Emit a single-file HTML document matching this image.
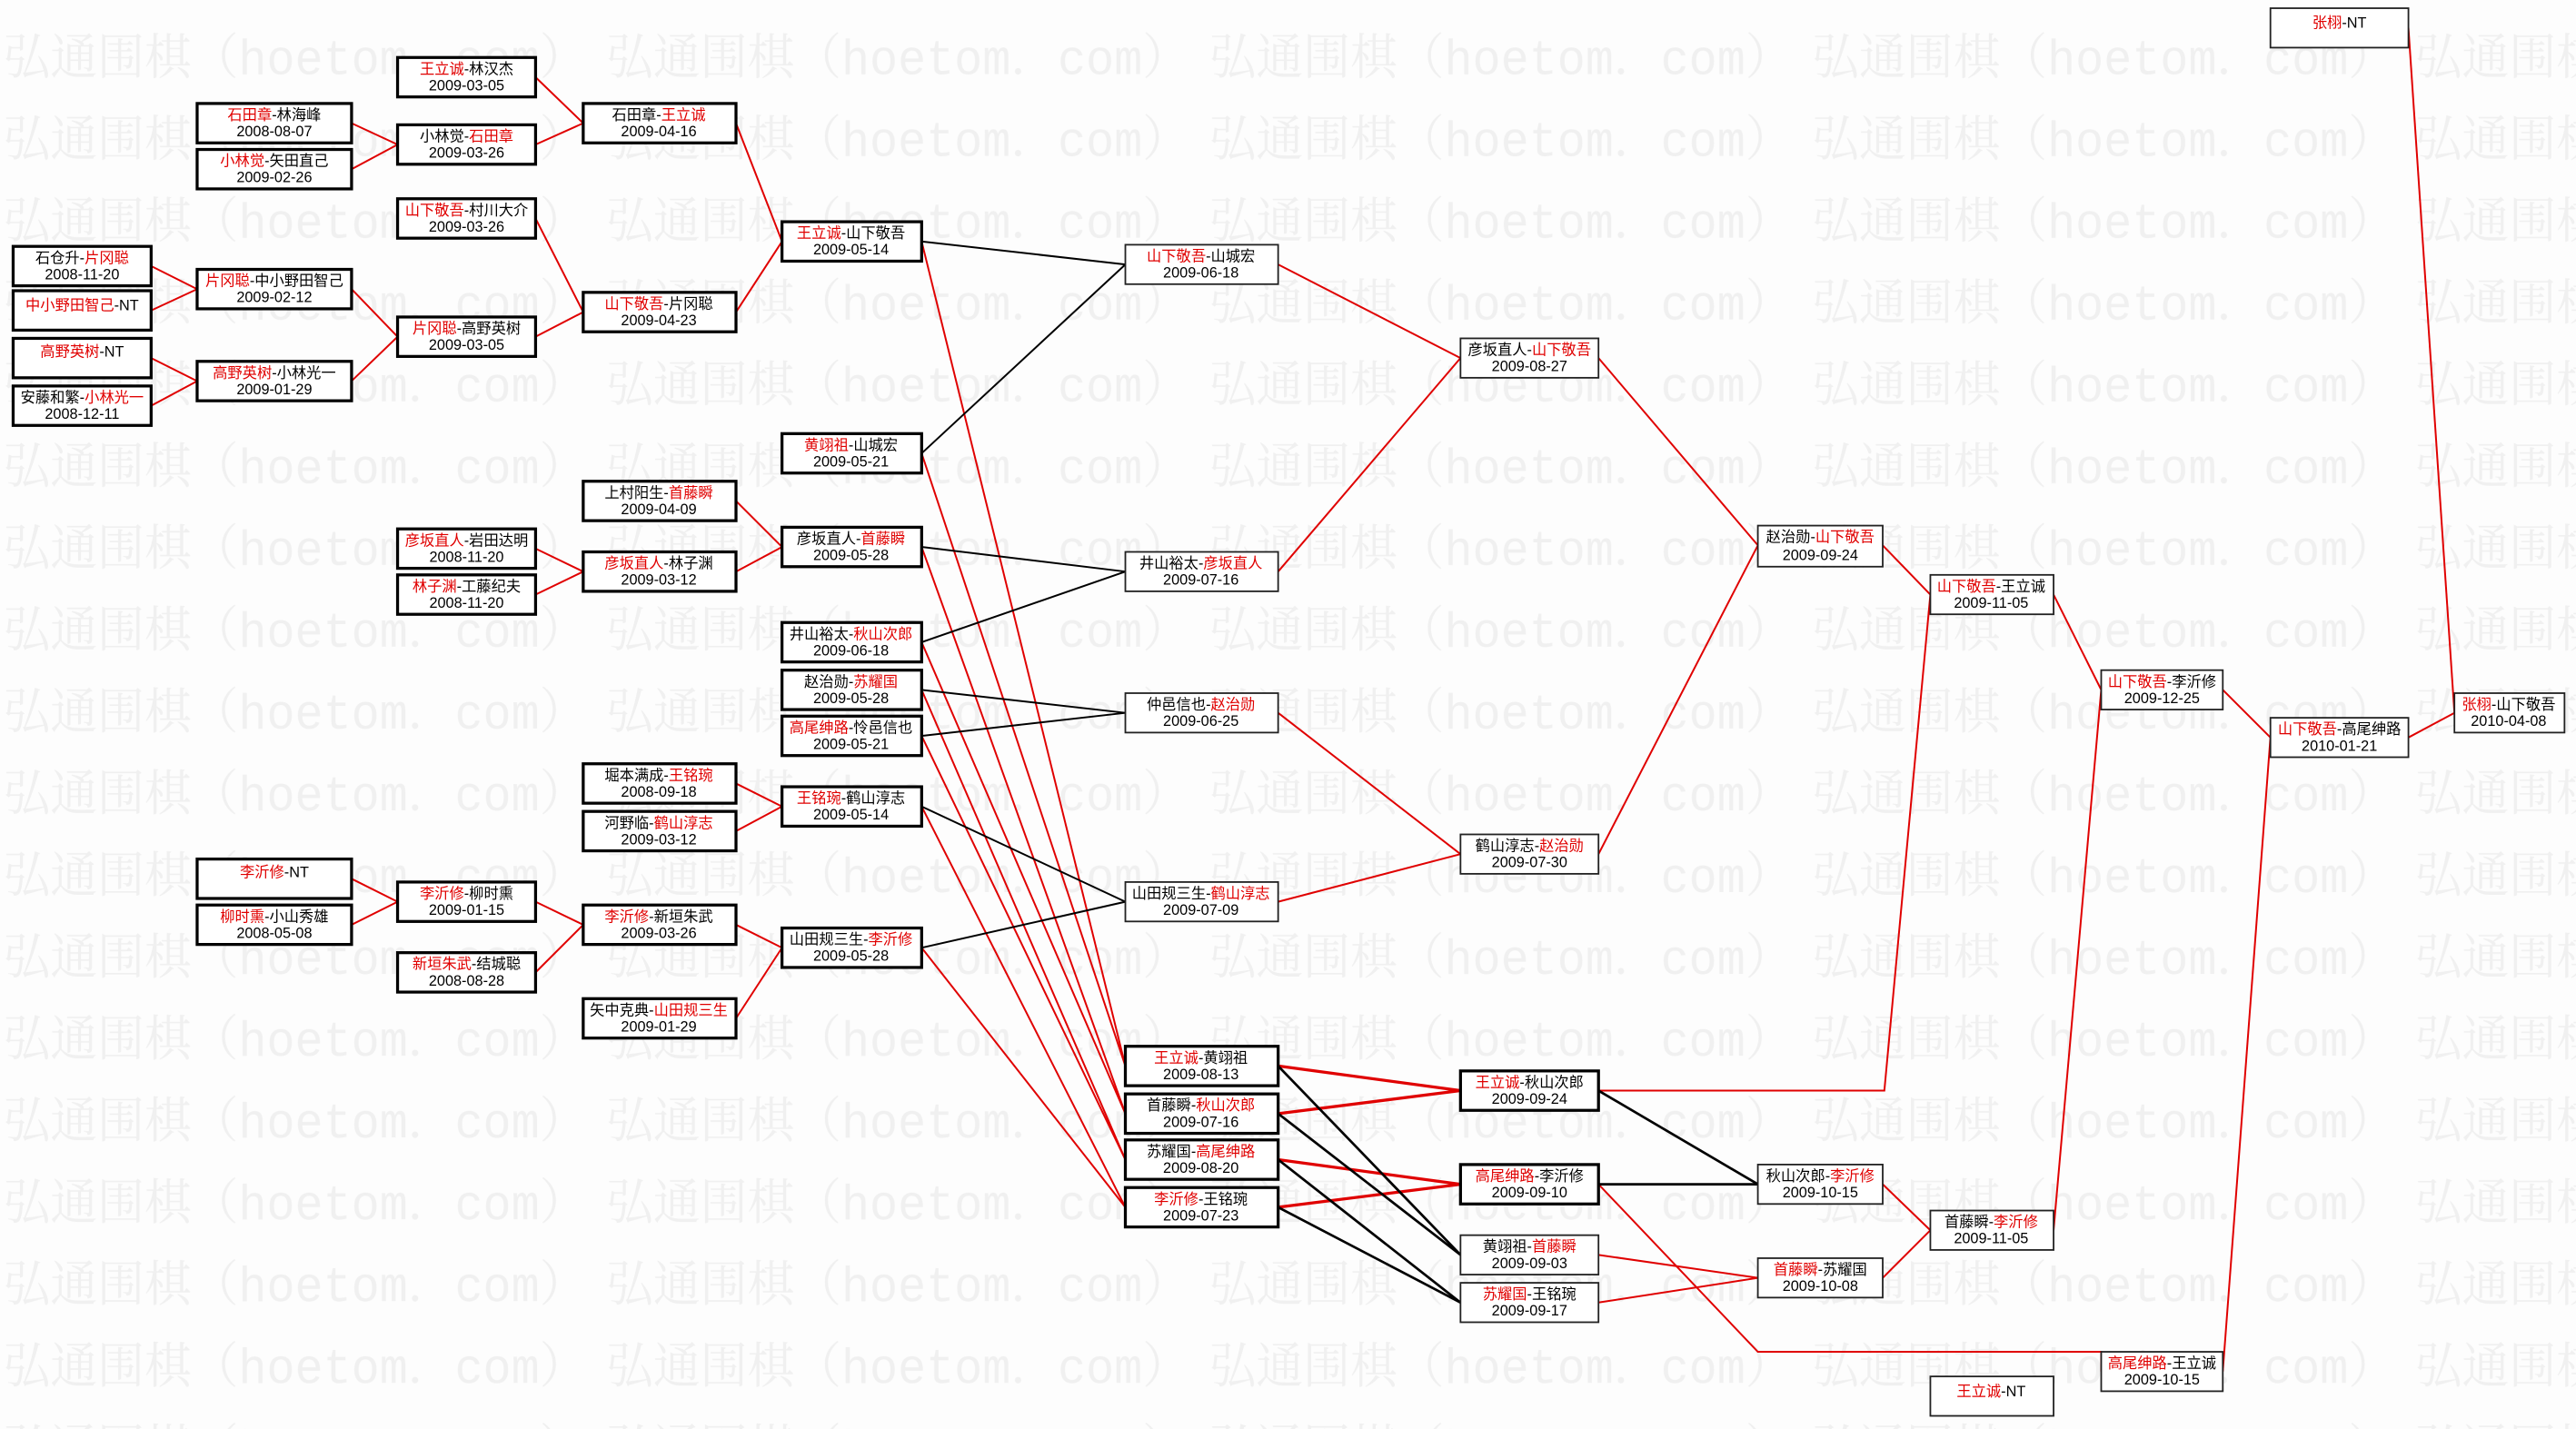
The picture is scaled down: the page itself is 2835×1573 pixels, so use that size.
<!DOCTYPE html>
<html><head><meta charset="utf-8"><style>
html,body{margin:0;padding:0;background:#fdfdfd;}
svg{display:block}
text{font-family:"Liberation Sans","Noto Sans CJK SC",sans-serif;font-size:9px;text-anchor:middle;fill:#000}
.r{fill:#e00000}
.b{fill:#fff;stroke:#000;stroke-width:1.8}
.t{fill:#fff;stroke:#222;stroke-width:1}
.lr{stroke:#e00000;stroke-width:1.1;fill:none}
.lk{stroke:#000;stroke-width:1.1;fill:none}
.wm{font-family:"Liberation Mono","Noto Serif CJK SC",monospace;font-size:30px;fill:#f0f0f0;text-anchor:start}
</style></head><body>
<svg width="2835" height="1573" viewBox="0 0 1568 870" preserveAspectRatio="none" xmlns="http://www.w3.org/2000/svg">
<defs>
<pattern id="wm" x="0" y="0" width="367" height="49.8" patternUnits="userSpaceOnUse">
<text class="wm" x="2" y="45" textLength="355" lengthAdjust="spacingAndGlyphs">弘通围棋（hoetom．com）</text>
</pattern>
</defs>
<rect x="0" y="0" width="1568" height="870" fill="url(#wm)"/>

<!-- connectors -->
<g class="lr">
<line x1="92" y1="162" x2="120" y2="176"/><line x1="92" y1="189" x2="120" y2="176"/>
<line x1="92" y1="218" x2="120" y2="232"/><line x1="92" y1="247" x2="120" y2="232"/>
<line x1="214" y1="75" x2="242" y2="88"/><line x1="214" y1="103" x2="242" y2="88"/>
<line x1="214" y1="176" x2="242" y2="205"/><line x1="214" y1="232" x2="242" y2="205"/>
<line x1="326" y1="47" x2="355" y2="75"/><line x1="326" y1="88" x2="355" y2="75"/>
<line x1="326" y1="133" x2="355" y2="190"/><line x1="326" y1="205" x2="355" y2="190"/>
<line x1="448" y1="75" x2="476" y2="147"/><line x1="448" y1="190" x2="476" y2="147"/>
<line x1="326" y1="334" x2="355" y2="348"/><line x1="326" y1="362" x2="355" y2="348"/>
<line x1="448" y1="305" x2="476" y2="333"/><line x1="448" y1="348" x2="476" y2="333"/>
<line x1="448" y1="477" x2="476" y2="491"/><line x1="448" y1="506" x2="476" y2="491"/>
<line x1="214" y1="535" x2="242" y2="549"/><line x1="214" y1="563" x2="242" y2="549"/>
<line x1="326" y1="549" x2="355" y2="563"/><line x1="326" y1="592" x2="355" y2="563"/>
<line x1="448" y1="563" x2="476" y2="577"/><line x1="448" y1="620" x2="476" y2="577"/>
<line x1="561" y1="147" x2="685" y2="649"/><line x1="561" y1="276" x2="685" y2="649"/>
<line x1="561" y1="333" x2="685" y2="678"/><line x1="561" y1="391" x2="685" y2="678"/>
<line x1="561" y1="420" x2="685" y2="706"/><line x1="561" y1="448" x2="685" y2="706"/>
<line x1="561" y1="491" x2="685" y2="735"/><line x1="561" y1="577" x2="685" y2="735"/>
<line x1="778" y1="161" x2="889" y2="218"/><line x1="778" y1="348" x2="889" y2="218"/>
<line x1="778" y1="434" x2="889" y2="520"/><line x1="778" y1="549" x2="889" y2="520"/>
<line x1="973" y1="218" x2="1070" y2="332"/><line x1="973" y1="520" x2="1070" y2="332"/>
<line x1="1146" y1="332" x2="1175" y2="362"/>
<line x1="1250" y1="362" x2="1279" y2="420"/><line x1="1250" y1="749" x2="1279" y2="420"/>
<line x1="1353" y1="420" x2="1382" y2="449"/>
<line x1="1466" y1="449" x2="1494" y2="434"/>
<line x1="1466" y1="17" x2="1494" y2="434"/>
<line x1="1353" y1="835" x2="1382" y2="449"/>
<line x1="973" y1="764" x2="1070" y2="778"/><line x1="973" y1="793" x2="1070" y2="778"/>
<line x1="1146" y1="721" x2="1175" y2="749"/><line x1="1146" y1="778" x2="1175" y2="749"/>
<polyline points="973,664 1147,664 1175,362"/>
<polyline points="973,721 1070,823 1279,823 1279,835"/>
</g>
<g class="lr" style="stroke-width:1.8">
<line x1="778" y1="649" x2="889" y2="664"/><line x1="778" y1="678" x2="889" y2="664"/>
<line x1="778" y1="706" x2="889" y2="721"/><line x1="778" y1="735" x2="889" y2="721"/>
</g>
<g class="lk">
<line x1="561" y1="147" x2="685" y2="161"/><line x1="561" y1="276" x2="685" y2="161"/>
<line x1="561" y1="333" x2="685" y2="348"/><line x1="561" y1="391" x2="685" y2="348"/>
<line x1="561" y1="420" x2="685" y2="434"/><line x1="561" y1="448" x2="685" y2="434"/>
<line x1="561" y1="491" x2="685" y2="549"/><line x1="561" y1="577" x2="685" y2="549"/>
</g>
<g class="lk" style="stroke-width:1.5">
<line x1="778" y1="649" x2="889" y2="764"/><line x1="778" y1="678" x2="889" y2="764"/>
<line x1="778" y1="706" x2="889" y2="793"/><line x1="778" y1="735" x2="889" y2="793"/>
<line x1="973" y1="664" x2="1070" y2="721"/><line x1="973" y1="721" x2="1070" y2="721"/>
</g>

<!-- nodes: thick -->
<g>
<rect class="b" x="8" y="150" width="84" height="24"/><text x="50" y="160">石仓升-<tspan class="r">片冈聪</tspan></text><text x="50" y="170">2008-11-20</text>
<rect class="b" x="8" y="177" width="84" height="24"/><text x="50" y="189"><tspan class="r">中小野田智己</tspan>-NT</text>
<rect class="b" x="8" y="206" width="84" height="24"/><text x="50" y="217"><tspan class="r">高野英树</tspan>-NT</text>
<rect class="b" x="8" y="235" width="84" height="24"/><text x="50" y="245">安藤和繁-<tspan class="r">小林光一</tspan></text><text x="50" y="255">2008-12-11</text>

<rect class="b" x="120" y="63" width="94" height="24"/><text x="167" y="73"><tspan class="r">石田章</tspan>-林海峰</text><text x="167" y="83">2008-08-07</text>
<rect class="b" x="120" y="91" width="94" height="24"/><text x="167" y="101"><tspan class="r">小林觉</tspan>-矢田直己</text><text x="167" y="111">2009-02-26</text>
<rect class="b" x="120" y="164" width="94" height="24"/><text x="167" y="174"><tspan class="r">片冈聪</tspan>-中小野田智己</text><text x="167" y="184">2009-02-12</text>
<rect class="b" x="120" y="220" width="94" height="24"/><text x="167" y="230"><tspan class="r">高野英树</tspan>-小林光一</text><text x="167" y="240">2009-01-29</text>
<rect class="b" x="242" y="322" width="84" height="24"/><text x="284" y="332"><tspan class="r">彦坂直人</tspan>-岩田达明</text><text x="284" y="342">2008-11-20</text>
<rect class="b" x="242" y="350" width="84" height="24"/><text x="284" y="360"><tspan class="r">林子渊</tspan>-工藤纪夫</text><text x="284" y="370">2008-11-20</text>
<rect class="b" x="120" y="523" width="94" height="24"/><text x="167" y="534"><tspan class="r">李沂修</tspan>-NT</text>
<rect class="b" x="120" y="551" width="94" height="24"/><text x="167" y="561"><tspan class="r">柳时熏</tspan>-小山秀雄</text><text x="167" y="571">2008-05-08</text>

<rect class="b" x="242" y="35" width="84" height="24"/><text x="284" y="45"><tspan class="r">王立诚</tspan>-林汉杰</text><text x="284" y="55">2009-03-05</text>
<rect class="b" x="242" y="76" width="84" height="24"/><text x="284" y="86">小林觉-<tspan class="r">石田章</tspan></text><text x="284" y="96">2009-03-26</text>
<rect class="b" x="242" y="121" width="84" height="24"/><text x="284" y="131"><tspan class="r">山下敬吾</tspan>-村川大介</text><text x="284" y="141">2009-03-26</text>
<rect class="b" x="242" y="193" width="84" height="24"/><text x="284" y="203"><tspan class="r">片冈聪</tspan>-高野英树</text><text x="284" y="213">2009-03-05</text>
<rect class="b" x="242" y="537" width="84" height="24"/><text x="284" y="547"><tspan class="r">李沂修</tspan>-柳时熏</text><text x="284" y="557">2009-01-15</text>
<rect class="b" x="242" y="580" width="84" height="24"/><text x="284" y="590"><tspan class="r">新垣朱武</tspan>-结城聪</text><text x="284" y="600">2008-08-28</text>

<rect class="b" x="355" y="63" width="93" height="24"/><text x="401" y="73">石田章-<tspan class="r">王立诚</tspan></text><text x="401" y="83">2009-04-16</text>
<rect class="b" x="355" y="178" width="93" height="24"/><text x="401" y="188"><tspan class="r">山下敬吾</tspan>-片冈聪</text><text x="401" y="198">2009-04-23</text>
<rect class="b" x="355" y="293" width="93" height="24"/><text x="401" y="303">上村阳生-<tspan class="r">首藤瞬</tspan></text><text x="401" y="313">2009-04-09</text>
<rect class="b" x="355" y="336" width="93" height="24"/><text x="401" y="346"><tspan class="r">彦坂直人</tspan>-林子渊</text><text x="401" y="356">2009-03-12</text>
<rect class="b" x="355" y="465" width="93" height="24"/><text x="401" y="475">堀本满成-<tspan class="r">王铭琬</tspan></text><text x="401" y="485">2008-09-18</text>
<rect class="b" x="355" y="494" width="93" height="24"/><text x="401" y="504">河野临-<tspan class="r">鹤山淳志</tspan></text><text x="401" y="514">2009-03-12</text>
<rect class="b" x="355" y="551" width="93" height="24"/><text x="401" y="561"><tspan class="r">李沂修</tspan>-新垣朱武</text><text x="401" y="571">2009-03-26</text>
<rect class="b" x="355" y="608" width="93" height="24"/><text x="401" y="618">矢中克典-<tspan class="r">山田规三生</tspan></text><text x="401" y="628">2009-01-29</text>

<rect class="b" x="476" y="135" width="85" height="24"/><text x="518" y="145"><tspan class="r">王立诚</tspan>-山下敬吾</text><text x="518" y="155">2009-05-14</text>
<rect class="b" x="476" y="264" width="85" height="24"/><text x="518" y="274"><tspan class="r">黄翊祖</tspan>-山城宏</text><text x="518" y="284">2009-05-21</text>
<rect class="b" x="476" y="321" width="85" height="24"/><text x="518" y="331">彦坂直人-<tspan class="r">首藤瞬</tspan></text><text x="518" y="341">2009-05-28</text>
<rect class="b" x="476" y="379" width="85" height="24"/><text x="518" y="389">井山裕太-<tspan class="r">秋山次郎</tspan></text><text x="518" y="399">2009-06-18</text>
<rect class="b" x="476" y="408" width="85" height="24"/><text x="518" y="418">赵治勋-<tspan class="r">苏耀国</tspan></text><text x="518" y="428">2009-05-28</text>
<rect class="b" x="476" y="436" width="85" height="24"/><text x="518" y="446"><tspan class="r">高尾绅路</tspan>-怜邑信也</text><text x="518" y="456">2009-05-21</text>
<rect class="b" x="476" y="479" width="85" height="24"/><text x="518" y="489"><tspan class="r">王铭琬</tspan>-鹤山淳志</text><text x="518" y="499">2009-05-14</text>
<rect class="b" x="476" y="565" width="85" height="24"/><text x="518" y="575">山田规三生-<tspan class="r">李沂修</tspan></text><text x="518" y="585">2009-05-28</text>

<rect class="b" x="685" y="637" width="93" height="24"/><text x="731" y="647"><tspan class="r">王立诚</tspan>-黄翊祖</text><text x="731" y="657">2009-08-13</text>
<rect class="b" x="685" y="666" width="93" height="24"/><text x="731" y="676">首藤瞬-<tspan class="r">秋山次郎</tspan></text><text x="731" y="686">2009-07-16</text>
<rect class="b" x="685" y="694" width="93" height="24"/><text x="731" y="704">苏耀国-<tspan class="r">高尾绅路</tspan></text><text x="731" y="714">2009-08-20</text>
<rect class="b" x="685" y="723" width="93" height="24"/><text x="731" y="733"><tspan class="r">李沂修</tspan>-王铭琬</text><text x="731" y="743">2009-07-23</text>

<rect class="b" x="889" y="652" width="84" height="24"/><text x="931" y="662"><tspan class="r">王立诚</tspan>-秋山次郎</text><text x="931" y="672">2009-09-24</text>
<rect class="b" x="889" y="709" width="84" height="24"/><text x="931" y="719"><tspan class="r">高尾绅路</tspan>-李沂修</text><text x="931" y="729">2009-09-10</text>
</g>

<!-- nodes: thin -->
<g>
<rect class="t" x="685" y="149" width="93" height="24"/><text x="731" y="159"><tspan class="r">山下敬吾</tspan>-山城宏</text><text x="731" y="169">2009-06-18</text>
<rect class="t" x="685" y="336" width="93" height="24"/><text x="731" y="346">井山裕太-<tspan class="r">彦坂直人</tspan></text><text x="731" y="356">2009-07-16</text>
<rect class="t" x="685" y="422" width="93" height="24"/><text x="731" y="432">仲邑信也-<tspan class="r">赵治勋</tspan></text><text x="731" y="442">2009-06-25</text>
<rect class="t" x="685" y="537" width="93" height="24"/><text x="731" y="547">山田规三生-<tspan class="r">鹤山淳志</tspan></text><text x="731" y="557">2009-07-09</text>

<rect class="t" x="889" y="206" width="84" height="24"/><text x="931" y="216">彦坂直人-<tspan class="r">山下敬吾</tspan></text><text x="931" y="226">2009-08-27</text>
<rect class="t" x="889" y="508" width="84" height="24"/><text x="931" y="518">鹤山淳志-<tspan class="r">赵治勋</tspan></text><text x="931" y="528">2009-07-30</text>
<rect class="t" x="889" y="752" width="84" height="24"/><text x="931" y="762">黄翊祖-<tspan class="r">首藤瞬</tspan></text><text x="931" y="772">2009-09-03</text>
<rect class="t" x="889" y="781" width="84" height="24"/><text x="931" y="791"><tspan class="r">苏耀国</tspan>-王铭琬</text><text x="931" y="801">2009-09-17</text>

<rect class="t" x="1070" y="320" width="76" height="25"/><text x="1108" y="330">赵治勋-<tspan class="r">山下敬吾</tspan></text><text x="1108" y="341">2009-09-24</text>
<rect class="t" x="1070" y="709" width="76" height="24"/><text x="1108" y="719">秋山次郎-<tspan class="r">李沂修</tspan></text><text x="1108" y="729">2009-10-15</text>
<rect class="t" x="1070" y="766" width="76" height="24"/><text x="1108" y="776"><tspan class="r">首藤瞬</tspan>-苏耀国</text><text x="1108" y="786">2009-10-08</text>

<rect class="t" x="1175" y="350" width="75" height="24"/><text x="1212" y="360"><tspan class="r">山下敬吾</tspan>-王立诚</text><text x="1212" y="370">2009-11-05</text>
<rect class="t" x="1175" y="737" width="75" height="24"/><text x="1212" y="747">首藤瞬-<tspan class="r">李沂修</tspan></text><text x="1212" y="757">2009-11-05</text>
<rect class="t" x="1175" y="838" width="75" height="24"/><text x="1212" y="850"><tspan class="r">王立诚</tspan>-NT</text>

<rect class="t" x="1279" y="408" width="74" height="24"/><text x="1316" y="418"><tspan class="r">山下敬吾</tspan>-李沂修</text><text x="1316" y="428">2009-12-25</text>
<rect class="t" x="1279" y="823" width="74" height="24"/><text x="1316" y="833"><tspan class="r">高尾绅路</tspan>-王立诚</text><text x="1316" y="843">2009-10-15</text>

<rect class="t" x="1382" y="437" width="84" height="24"/><text x="1424" y="447"><tspan class="r">山下敬吾</tspan>-高尾绅路</text><text x="1424" y="457">2010-01-21</text>
<rect class="t" x="1382" y="5" width="84" height="24"/><text x="1424" y="17"><tspan class="r">张栩</tspan>-NT</text>

<rect class="t" x="1494" y="422" width="67" height="24"/><text x="1527" y="432"><tspan class="r">张栩</tspan>-山下敬吾</text><text x="1527" y="442">2010-04-08</text>
</g>
</svg>
</body></html>
